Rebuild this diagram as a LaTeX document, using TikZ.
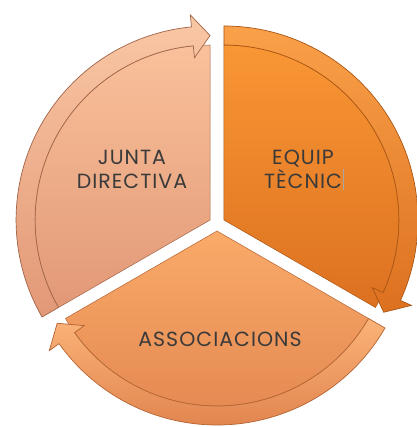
\documentclass[tikz,border=0pt]{standalone}
\usepackage{fontspec}
\setmainfont[LetterSpace=5]{Poppins}
\usetikzlibrary{calc}
\definecolor{lTop}{RGB}{249,193,155}
\definecolor{lBot}{RGB}{226,152,118}
\definecolor{lLine}{RGB}{160,100,72}
\definecolor{rTop}{RGB}{249,150,52}
\definecolor{rBot}{RGB}{220,113,32}
\definecolor{rLine}{RGB}{170,85,20}
\definecolor{bTop}{RGB}{250,170,105}
\definecolor{bBot}{RGB}{226,134,80}
\definecolor{bLine}{RGB}{180,100,50}
\definecolor{txt}{RGB}{58,58,58}
\tikzset{
  lbl/.style={text=txt, font=\fontsize{20.5}{24}\selectfont, align=center, inner sep=0pt},
  cursorline/.style={draw=gray!70, line width=0.8pt}
}
\newcommand{\segm}[6]{% apex, start, end, top, bottom, line
  \path[top color=#4, bottom color=#5, draw=#6, line width=0.5pt]
    (#1) -- ($(#1)+(#2:175)$) arc[start angle=#2, end angle=#3, radius=175] -- cycle;
  \path[top color=#4!90!white, bottom color=#5, draw=#6, line width=0.7pt]
    ($(#1)+(#2:194)$) arc[start angle=#2, end angle=#3+5.5, radius=194]
    -- ($(#1)+(#3+5.5:206)$) -- ($(#1)+(#3:184.5)$) -- ($(#1)+(#3+5.5:163)$)
    -- ($(#1)+(#3+5.5:175)$) arc[start angle=#3+5.5, end angle=#2, radius=175] -- cycle;
}
\begin{document}
\begin{tikzpicture}[x=1pt,y=1pt]
\useasboundingbox (0,0) rectangle (416,427);
\fill[white] (0,0) rectangle (416,427);
\coordinate (C) at (217,203);
\coordinate (PL) at ($(C)+(150:8)$);
\coordinate (PR) at ($(C)+(30:8)$);
\coordinate (PB) at ($(C)+(270:7)$);
\segm{PL}{210}{90}{lTop}{lBot}{lLine}
\segm{PR}{90}{-30}{rTop}{rBot}{rLine}
\segm{PB}{330}{210}{bTop}{bBot}{bLine}
\node[lbl] (jd) at (132,257.5) {JUNTA\\DIRECTIVA};
\node[lbl] (et) at (303,257.5) {EQUIP\\TÈCNIC};
\node[lbl] (as) at (220,88) {ASSOCIACIONS};
\coordinate (cur) at ($(et.south east)+(1.5,-1)$);
\draw[cursorline] (cur) -- ++(0,21);
\end{tikzpicture}
\end{document}
